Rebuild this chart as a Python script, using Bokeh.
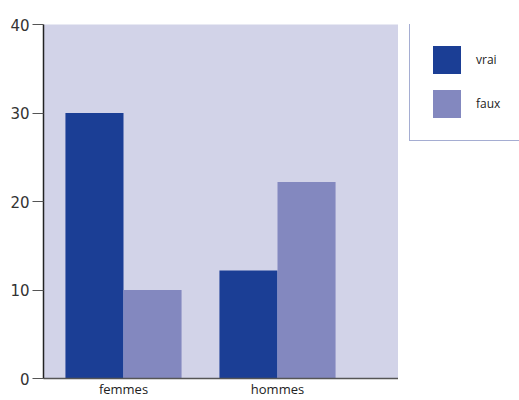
from bokeh.plotting import figure
from bokeh.layouts import row
from bokeh.models import ColumnDataSource, Range1d, FixedTicker, Legend, LegendItem
from bokeh.transform import dodge
from bokeh.embed import file_html
from bokeh.resources import INLINE
import numpy as np

# Data
groups = ["femmes", "hommes"]
vrai = [30, 12.2]
faux = [10, 22.2]
series_labels = ["vrai", "faux"]
y_ticks = [0, 10, 20, 30, 40]

DARK = "#1b3e95"
LIGHT = "#8388bf"
BG = "#d2d3e8"

pos = np.arange(len(groups)) + 1.0
bar_w = 0.377

src = ColumnDataSource(dict(x=pos, vrai=vrai, faux=faux))

# Main chart
p = figure(width=398, height=400, output_backend="svg", toolbar_location=None,
           x_range=Range1d(0.4805, 2.7857), y_range=Range1d(0, 40),
           min_border_left=43, min_border_right=0, min_border_top=24,
           min_border_bottom=22)
p.background_fill_color = BG
p.border_fill_color = "white"
p.outline_line_color = None
p.grid.visible = False

bar_styles = [("vrai", -bar_w / 2, DARK), ("faux", bar_w / 2, LIGHT)]
for field, off, color in bar_styles:
    p.vbar(x=dodge("x", off), top=field, width=bar_w, source=src,
           fill_color=color, line_color=None)

# y axis
ya = p.yaxis[0]
ya.ticker = FixedTicker(ticks=y_ticks)
ya.minor_tick_line_color = None
ya.major_tick_in = 0
ya.major_tick_out = 11
ya.major_tick_line_color = "#555555"
ya.axis_line_color = "#222222"
ya.axis_line_width = 1.5
ya.major_label_text_font = "DejaVu Sans"
ya.major_label_text_font_size = "15px"
ya.major_label_text_color = "#333333"
ya.major_label_standoff = 3

# x axis
xa = p.xaxis[0]
xa.ticker = FixedTicker(ticks=list(pos))
xa.major_label_overrides = {float(v): g for v, g in zip(pos, groups)}
xa.major_tick_in = 0
xa.major_tick_out = 0
xa.minor_tick_line_color = None
xa.axis_line_color = "#555555"
xa.axis_line_width = 1.5
xa.major_label_text_font = "Open Sans"
xa.major_label_text_font_size = "13px"
xa.major_label_text_color = "#222222"
xa.major_label_standoff = 1

# Legend panel to the right of the chart (its frame lines up with the chart's)
lg = figure(width=121, height=400, output_backend="svg", toolbar_location=None,
            x_range=Range1d(0, 1), y_range=Range1d(0, 1),
            x_axis_location=None, y_axis_location=None,
            min_border=0)
lg.outline_line_color = None
lg.grid.visible = False
lg.background_fill_color = "white"
lg.border_fill_color = "white"

# zero-height swatch renderers: they only supply the legend glyph styles
swatch_src = ColumnDataSource(dict(x=[0.5], top=[0.0]))
items = []
for (field, off, color), label in zip(bar_styles, series_labels):
    r = lg.vbar(x="x", top="top", bottom=0, width=0.0, source=swatch_src,
                fill_color=color, line_color=None)
    items.append(LegendItem(label=label, renderers=[r]))

legend = Legend(items=items, location=(11, 237))
legend.glyph_width = 35
legend.glyph_height = 35
legend.spacing = 9
legend.padding = 19
legend.label_standoff = 12
legend.label_width = 40
legend.label_text_font = "Open Sans"
legend.label_text_font_size = "12px"
legend.label_text_color = "#222222"
legend.border_line_color = "#4b5ba6"
legend.border_line_width = 1.3
legend.background_fill_color = "white"
legend.background_fill_alpha = 1
legend.margin = 0
lg.add_layout(legend, "center")

layout = row(p, lg, spacing=0)
open("out.html", "w").write(file_html(layout, INLINE))
